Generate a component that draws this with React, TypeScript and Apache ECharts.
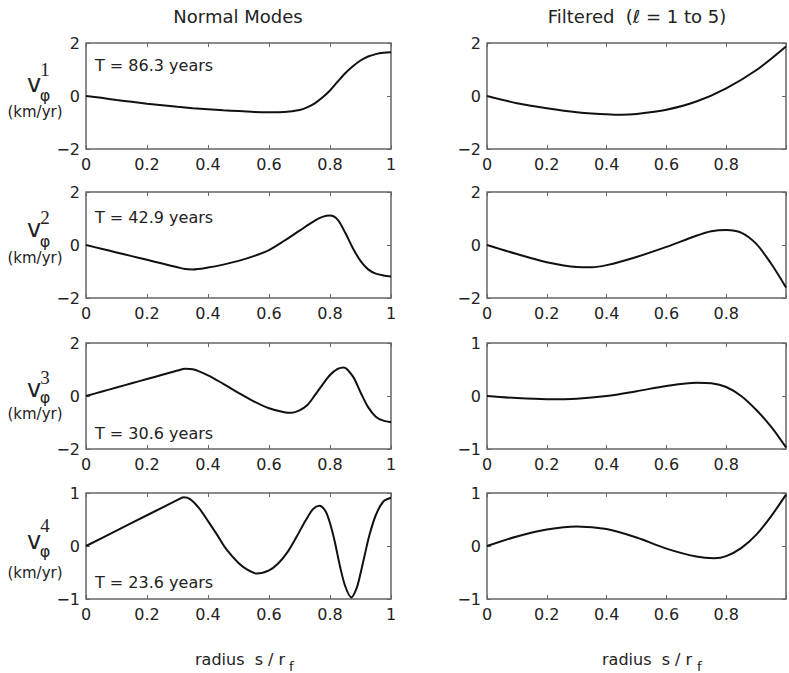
import React, { useEffect, useRef } from 'react';
import * as echarts from 'echarts';

// ---- data ----
const modeNumbers = ['1', '2', '3', '4'];
const periodLabels = ['T = 86.3 years', 'T = 42.9 years', 'T = 30.6 years', 'T = 23.6 years'];
const leftYLimit = [2, 2, 2, 1];
const rightYLimit = [2, 2, 1, 1];
const columnTitles = ['Normal Modes', 'Filtered  (ℓ = 1 to 5)'];
const xAxisTitle = 'radius  s / r';

const normal1: [number, number][] = [
  [0, 0], [0.05, -0.07], [0.1, -0.15], [0.15, -0.22], [0.2, -0.29], [0.25, -0.35], [0.3, -0.41],
  [0.35, -0.46], [0.4, -0.5], [0.45, -0.54], [0.5, -0.57], [0.55, -0.6], [0.6, -0.61], [0.65, -0.6],
  [0.7, -0.53], [0.725, -0.43], [0.75, -0.28], [0.775, -0.06], [0.8, 0.21], [0.825, 0.54],
  [0.85, 0.86], [0.875, 1.12], [0.9, 1.34], [0.925, 1.49], [0.95, 1.58], [0.975, 1.63], [1, 1.65],
];
const normal2: [number, number][] = [
  [0, 0], [0.05, -0.14], [0.1, -0.28], [0.15, -0.42], [0.2, -0.56], [0.25, -0.7], [0.3, -0.84],
  [0.325, -0.91], [0.35, -0.92], [0.4, -0.85], [0.45, -0.74], [0.5, -0.6], [0.55, -0.42],
  [0.6, -0.19], [0.65, 0.16], [0.7, 0.54], [0.75, 0.92], [0.775, 1.06], [0.8, 1.11], [0.825, 0.96],
  [0.85, 0.46], [0.875, -0.12], [0.9, -0.6], [0.925, -0.92], [0.95, -1.08], [0.975, -1.15], [1, -1.19],
];
const normal3: [number, number][] = [
  [0, 0], [0.05, 0.16], [0.1, 0.32], [0.15, 0.48], [0.2, 0.64], [0.25, 0.8], [0.3, 0.96],
  [0.325, 1.03], [0.35, 1.01], [0.4, 0.78], [0.45, 0.46], [0.5, 0.12], [0.55, -0.2], [0.6, -0.46],
  [0.65, -0.61], [0.675, -0.63], [0.7, -0.54], [0.725, -0.35], [0.75, 0.02], [0.775, 0.42],
  [0.8, 0.79], [0.825, 1.02], [0.845, 1.08], [0.875, 0.74], [0.9, 0.14], [0.925, -0.42],
  [0.95, -0.78], [0.975, -0.93], [1, -0.99],
];
const normal4: [number, number][] = [
  [0, 0], [0.1, 0.29], [0.2, 0.58], [0.3, 0.87], [0.32, 0.92], [0.34, 0.89], [0.37, 0.72],
  [0.4, 0.47], [0.43, 0.21], [0.46, -0.06], [0.5, -0.32], [0.53, -0.45], [0.56, -0.52],
  [0.6, -0.46], [0.63, -0.33], [0.66, -0.12], [0.69, 0.17], [0.72, 0.48], [0.745, 0.7], [0.765, 0.76],
  [0.785, 0.66], [0.8, 0.43], [0.815, 0.1], [0.833, -0.39], [0.85, -0.76], [0.87, -0.97],
  [0.887, -0.8], [0.9, -0.52], [0.915, -0.14], [0.93, 0.22], [0.95, 0.58], [0.975, 0.84], [1, 0.91],
];
const filtered1: [number, number][] = [
  [0, 0], [0.1, -0.27], [0.2, -0.46], [0.3, -0.61], [0.4, -0.69], [0.45, -0.71], [0.5, -0.68],
  [0.6, -0.52], [0.7, -0.21], [0.8, 0.29], [0.9, 0.97], [1, 1.87],
];
const filtered2: [number, number][] = [
  [0, 0], [0.1, -0.34], [0.2, -0.65], [0.3, -0.83], [0.35, -0.84], [0.4, -0.76], [0.5, -0.45],
  [0.6, -0.07], [0.7, 0.35], [0.75, 0.52], [0.8, 0.57], [0.85, 0.47], [0.9, 0.05], [0.95, -0.7], [1, -1.6],
];
const filtered3: [number, number][] = [
  [0, 0], [0.1, -0.04], [0.2, -0.06], [0.3, -0.05], [0.4, 0], [0.5, 0.09], [0.6, 0.19], [0.7, 0.25],
  [0.75, 0.24], [0.8, 0.17], [0.85, 0.0], [0.9, -0.26], [0.95, -0.58], [1, -0.97],
];
const filtered4: [number, number][] = [
  [0, 0], [0.1, 0.18], [0.2, 0.31], [0.3, 0.37], [0.4, 0.32], [0.5, 0.16], [0.6, -0.05], [0.7, -0.2],
  [0.76, -0.23], [0.8, -0.19], [0.85, -0.04], [0.9, 0.21], [0.95, 0.56], [1, 0.97],
];
const normalSeries = [normal1, normal2, normal3, normal4];
const filteredSeries = [filtered1, filtered2, filtered3, filtered4];

// ---- layout ----
const COL_LEFT = [86, 487];
const ROW_TOP = [43, 192, 343, 493];
const PW = 305;
const PH = 106;
const FONT = '"DejaVu Sans", "Liberation Sans", sans-serif';
const FRAME = '#666';
const LABEL_POS = [
  { v: 84, sup: 69, phi: 95, km: 112 },
  { v: 229, sup: 217, phi: 241, km: 258 },
  { v: 389, sup: 377, phi: 397, km: 414 },
  { v: 541, sup: 525, phi: 551, km: 573 },
];
const PERIOD_Y = [65, 217.5, 433, 582.5];

const fmtNum = (v: number) => (v < 0 ? '\u2212' + Math.abs(v) : String(v));

export default function App() {
  const ref = useRef<HTMLDivElement>(null);
  useEffect(() => {
    if (!ref.current) return;
    const chart = echarts.init(ref.current, undefined, { renderer: 'svg' });
    const grids: any[] = [];
    const xAxes: any[] = [];
    const yAxes: any[] = [];
    const series: any[] = [];
    for (let c = 0; c < 2; c++) {
      for (let r = 0; r < 4; r++) {
        const gi = grids.length;
        const lim = c === 0 ? leftYLimit[r] : rightYLimit[r];
        grids.push({
          left: COL_LEFT[c], top: ROW_TOP[r], width: PW, height: PH,
          show: true, borderColor: FRAME, borderWidth: 1.5, backgroundColor: 'transparent',
        });
        const tick = { show: true, inside: true, length: 4, lineStyle: { color: FRAME, width: 1 } };
        const line = { show: false, onZero: false };
        xAxes.push({
          type: 'value', gridIndex: gi, min: 0, max: 1, interval: 0.2, position: 'bottom',
          axisLine: line, axisTick: tick, splitLine: { show: false },
          axisLabel: {
            fontSize: 16, fontFamily: FONT, color: '#222', margin: 7,
            formatter: (v: number) => (c === 1 && v >= 1 ? '' : fmtNum(v)),
          },
        });
        xAxes.push({
          type: 'value', gridIndex: gi, min: 0, max: 1, interval: 0.2, position: 'top',
          axisLine: line, axisTick: tick, splitLine: { show: false }, axisLabel: { show: false },
        });
        yAxes.push({
          type: 'value', gridIndex: gi, min: -lim, max: lim, interval: lim, position: 'left',
          axisLine: line, axisTick: tick, splitLine: { show: false },
          axisLabel: { fontSize: 16, fontFamily: FONT, color: '#222', margin: 6, formatter: fmtNum },
        });
        yAxes.push({
          type: 'value', gridIndex: gi, min: -lim, max: lim, interval: lim, position: 'right',
          axisLine: line, axisTick: tick, splitLine: { show: false }, axisLabel: { show: false },
        });
        series.push({
          type: 'line', xAxisIndex: gi * 2, yAxisIndex: gi * 2,
          data: c === 0 ? normalSeries[r] : filteredSeries[r],
          showSymbol: false, smooth: 0.3,
          lineStyle: { color: '#111', width: 2 }, silent: true,
        });
      }
    }
    const graphic: any[] = [];
    const txt = (text: string, x: number, y: number, size: number, align = 'center', family = FONT, fill = '#222') => ({
      type: 'text', x, y, silent: true,
      style: { text, fontSize: size, fontFamily: family, fill, textAlign: align, textVerticalAlign: 'middle' },
    });
    graphic.push(txt(columnTitles[0], 238, 16, 18));
    graphic.push(txt(columnTitles[1], 637, 16, 18));
    for (let r = 0; r < 4; r++) {
      const p = LABEL_POS[r];
      graphic.push(txt('v', 34, p.v, 24));
      graphic.push(txt(modeNumbers[r], 45, p.sup, 19, 'center', '"Liberation Serif", "DejaVu Serif", serif'));
      graphic.push(txt('φ', 45, p.phi, 16));
      graphic.push(txt('(km/yr)', 35, p.km, 15));
      graphic.push(txt(periodLabels[r], 95, PERIOD_Y[r], 16, 'left'));
    }
    graphic.push(txt(xAxisTitle, 195, 659, 16, 'left'));
    graphic.push(txt('f', 289, 666, 13, 'left'));
    graphic.push(txt(xAxisTitle, 602, 659, 16, 'left'));
    graphic.push(txt('f', 697, 666, 13, 'left'));

    chart.setOption({
      animation: false,
      backgroundColor: '#fff',
      grid: grids,
      xAxis: xAxes,
      yAxis: yAxes,
      series,
      graphic,
    });
    return () => chart.dispose();
  }, []);
  return (
    <div
      ref={ref}
      style={{ position: 'absolute', left: 0, top: 0, width: 789, height: 673, background: '#fff' }}
    />
  );
}
